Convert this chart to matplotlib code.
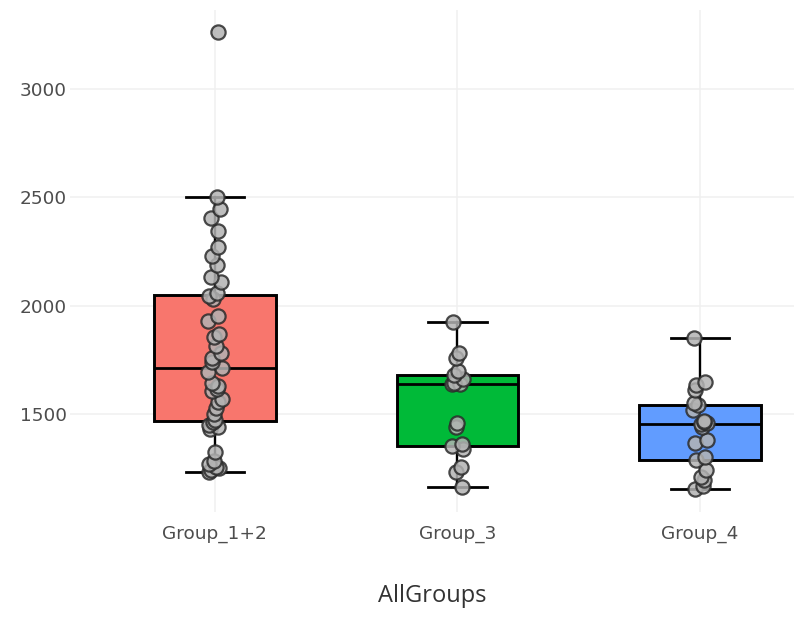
import numpy as np
import matplotlib

matplotlib.use("Agg")
import matplotlib.pyplot as plt

# data ---------------------------------------------------------------------
groups = ["Group_1+2", "Group_3", "Group_4"]
group_12 = [1231, 1240, 1250, 1258, 1270, 1285, 1324, 1432, 1440, 1448,
            1462, 1474, 1500, 1530, 1555, 1570, 1605, 1615, 1628, 1645,
            1695, 1713, 1742, 1760, 1780, 1815, 1855, 1870, 1930, 1955,
            2030, 2045, 2057, 2110, 2135, 2190, 2230, 2270, 2345, 2405,
            2445, 2500, 3264]
group_3 = [1162, 1231, 1255, 1340, 1352, 1360, 1440, 1460, 1639, 1640,
           1645, 1660, 1681, 1700, 1760, 1780, 1926]
group_4 = [1153, 1170, 1195, 1210, 1240, 1287, 1300, 1365, 1380, 1440,
           1454, 1460, 1465, 1470, 1520, 1542, 1550, 1610, 1635, 1650, 1852]
box_colors = ["#F8766D", "#00BA38", "#619CFF"]
y_ticks = [1500, 2000, 2500, 3000]

values = [group_12, group_3, group_4]
pos = np.arange(len(groups))

fig = plt.figure(figsize=(7.94, 6.18), dpi=100)
ax = fig.add_axes([0.088, 0.1715, 0.912, 0.8125])

bp = ax.boxplot(values, positions=pos, widths=0.5, capwidths=0.24,
                patch_artist=True, showfliers=False, whis=1.5,
                medianprops=dict(color="black", lw=2.0),
                whiskerprops=dict(color="black", lw=1.7),
                capprops=dict(color="black", lw=2.0),
                boxprops=dict(edgecolor="black", lw=2.1))
for patch, c in zip(bp["boxes"], box_colors):
    patch.set_facecolor(c)
    patch.set_zorder(2)

# small horizontal jitter so the points don't all sit on one line
rng = np.random.default_rng(3)
for x, vals in zip(pos, values):
    jit = rng.uniform(-0.03, 0.03, len(vals))
    ax.scatter(x + jit, vals, s=105, c="#b3b3b3", edgecolors="#2b2b2b",
               linewidths=1.6, alpha=0.85, zorder=4)

ax.set_xlim(-0.598, 2.388)
ax.set_ylim(1048, 3366)
ax.set_xticks(pos)
ax.set_xticklabels(groups)
ax.set_yticks(y_ticks)
ax.grid(True, color="#f0f0f0", lw=1.1, zorder=0)
ax.set_axisbelow(True)
ax.tick_params(length=0, labelsize=13.3, labelcolor="#4d4d4d")
ax.tick_params(axis="x", pad=9)
ax.tick_params(axis="y", pad=2)
for s in ax.spines.values():
    s.set_visible(False)
ax.set_xlabel("AllGroups", fontsize=17, color="#333333", family="Open Sans",
              labelpad=30)

fig.savefig("out.png", dpi=100, facecolor="white")
